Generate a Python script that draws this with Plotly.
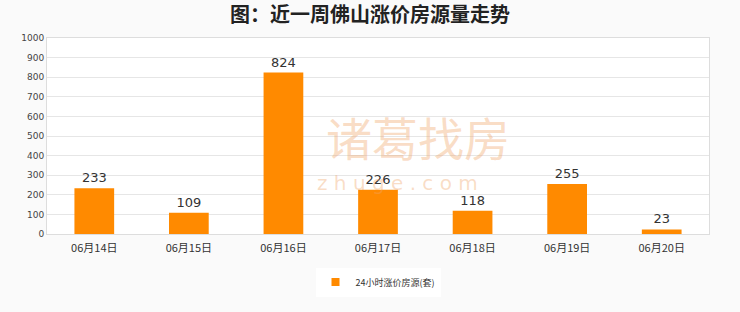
import plotly.graph_objects as go

categories = ["06月14日", "06月15日", "06月16日", "06月17日", "06月18日", "06月19日", "06月20日"]
values = [233, 109, 824, 226, 118, 255, 23]
series_name = "24小时涨价房源(套)"
title = "<b>图：近一周佛山涨价房源量走势</b>"
y_ticks = [0, 100, 200, 300, 400, 500, 600, 700, 800, 900, 1000]

font_cjk = "Noto Sans CJK SC"
bar_color = "#ff8a00"
wm_color = "rgba(240,165,105,0.38)"

fig = go.Figure()
fig.add_trace(go.Bar(
    x=categories, y=values, name=series_name,
    marker=dict(color=bar_color, line=dict(width=0)),
    width=0.42, showlegend=False,
    text=[str(v) for v in values], textposition="outside",
    textfont=dict(size=13, color="#333333", family="DejaVu Sans"),
    cliponaxis=False,
))
# legend entry with a small square symbol
fig.add_trace(go.Scatter(
    x=[categories[0]], y=[None], mode="markers", name=series_name,
    marker=dict(symbol="square", size=8, color=bar_color),
))

fig.update_layout(
    width=740, height=312,
    margin=dict(l=47, r=31, t=38, b=78),
    paper_bgcolor="#fafafa", plot_bgcolor="#ffffff",
    title=dict(text=title, x=0.5, xanchor="center", y=0.952, yanchor="middle",
               font=dict(family=font_cjk, size=20, color="#222222")),
    showlegend=True,
    legend=dict(orientation="h", x=0.5, xanchor="center", y=-0.245, yanchor="middle",
                font=dict(family=font_cjk, size=9, color="#333333"),
                bgcolor="#ffffff", itemwidth=30),
    font=dict(family=font_cjk),
)
fig.update_xaxes(
    type="category", showgrid=False, ticks="",
    tickfont=dict(family=font_cjk, size=11, color="#333333"),
    showline=True, linecolor="#dddddd", mirror=True,
    ticklabelstandoff=4,
)
fig.update_yaxes(
    range=[0, 1000], tickvals=y_ticks, showgrid=True, gridcolor="#e6e6e6",
    tickfont=dict(family="DejaVu Sans", size=9, color="#444444"),
    showline=True, linecolor="#dddddd", mirror=True, zeroline=False,
)

fig.add_annotation(x=0.56, y=0.5, xref="paper", yref="paper", yanchor="middle", text="诸葛找房",
                   showarrow=False, font=dict(family=font_cjk, size=46, color=wm_color))
fig.add_annotation(x=0.53, y=0.26, xref="paper", yref="paper", yanchor="middle", text="z h u g e . c o m",
                   showarrow=False, font=dict(family="DejaVu Sans", size=20, color=wm_color))

fig.write_html("out.html")
